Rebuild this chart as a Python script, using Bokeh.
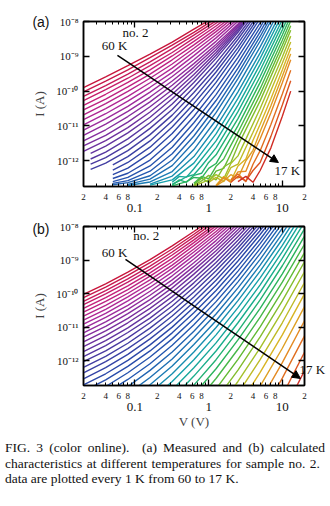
from bokeh.plotting import figure
from bokeh.layouts import column
from bokeh.models import LogAxis, FixedTicker, CustomJSTickFormatter, Label, Arrow, NormalHead, Range1d, Div
from bokeh.embed import file_html
from bokeh.resources import INLINE

# ---------------- data ----------------
temps = [60, 59, 58, 57, 56, 55, 54, 53, 52, 51, 50, 49, 48, 47, 46, 45, 44, 43, 42, 41, 40, 39,
         38, 37, 36, 35, 34, 33, 32, 31, 30, 29, 28, 27, 26, 25, 24, 23, 22, 21, 20, 19, 18, 17]

# (a) measured: voltage points (V) and log10 of current (A), one list per temperature
a_V = [
    [0.02, 0.04, 0.08, 0.16, 0.32, 0.63, 1.26],
    [0.02, 0.04, 0.08, 0.16, 0.32, 0.63, 1.26],
    [0.02, 0.04, 0.08, 0.16, 0.32, 0.63, 1.26],
    [0.02, 0.04, 0.08, 0.16, 0.32, 0.63, 1.26, 2.5],
    [0.02, 0.04, 0.08, 0.16, 0.32, 0.63, 1.26, 2.5],
    [0.02, 0.04, 0.08, 0.16, 0.32, 0.63, 1.26, 2.5],
    [0.02, 0.04, 0.08, 0.16, 0.32, 0.63, 1.26, 2.5],
    [0.02, 0.04, 0.08, 0.16, 0.32, 0.63, 1.26, 2.5],
    [0.02, 0.04, 0.08, 0.16, 0.32, 0.63, 1.26, 2.5],
    [0.02, 0.04, 0.08, 0.16, 0.32, 0.63, 1.26, 2.5, 5],
    [0.02, 0.04, 0.08, 0.16, 0.32, 0.63, 1.26, 2.5, 5],
    [0.02, 0.04, 0.08, 0.16, 0.32, 0.63, 1.26, 2.5, 5],
    [0.02, 0.04, 0.08, 0.16, 0.32, 0.63, 1.26, 2.5, 5],
    [0.02, 0.04, 0.08, 0.16, 0.32, 0.63, 1.26, 2.5, 5],
    [0.025, 0.04, 0.08, 0.16, 0.32, 0.63, 1.26, 2.5, 5],
    [0.025, 0.04, 0.08, 0.16, 0.32, 0.63, 1.26, 2.5, 5],
    [0.025, 0.04, 0.08, 0.16, 0.32, 0.63, 1.26, 2.5, 5],
    [0.025, 0.04, 0.08, 0.16, 0.32, 0.63, 1.26, 2.5, 5],
    [0.05, 0.08, 0.16, 0.32, 0.63, 1.26, 2.5, 5],
    [0.05, 0.08, 0.16, 0.32, 0.63, 1.26, 2.5, 5],
    [0.05, 0.08, 0.16, 0.32, 0.63, 1.26, 2.5, 5],
    [0.05, 0.08, 0.16, 0.32, 0.63, 1.26, 2.5, 5, 10],
    [0.05, 0.08, 0.16, 0.32, 0.63, 1.26, 2.5, 5, 10],
    [0.05, 0.08, 0.16, 0.32, 0.63, 1.26, 2.5, 5, 10],
    [0.05, 0.08, 0.16, 0.32, 0.63, 1.26, 2.5, 5, 10],
    [0.08, 0.16, 0.32, 0.63, 1.26, 2.5, 5, 10],
    [0.08, 0.16, 0.32, 0.63, 1.26, 2.5, 5, 10],
    [0.16, 0.32, 0.63, 1.26, 2.5, 5, 10],
    [0.16, 0.32, 0.63, 1.26, 2.5, 5, 10],
    [0.32, 0.4, 0.5, 0.63, 1.26, 2.5, 5, 10, 13],
    [0.32, 0.4, 0.5, 0.63, 0.8, 1.26, 2.5, 5, 10, 13],
    [0.32, 0.4, 0.5, 0.63, 0.8, 1.0, 1.26, 2.5, 5, 10, 13],
    [0.32, 0.5, 0.63, 0.8, 1.0, 1.26, 1.6, 2.5, 5, 10, 13],
    [0.63, 0.8, 1.0, 1.26, 1.6, 2.0, 2.5, 5, 10, 13],
    [0.63, 0.8, 1.0, 1.26, 1.6, 2.0, 2.5, 5, 10, 13],
    [0.63, 0.8, 1.0, 1.26, 1.6, 2.0, 2.5, 5, 10, 13],
    [0.63, 1.0, 1.26, 1.6, 2.0, 2.5, 3.2, 5, 10, 13],
    [1.0, 1.26, 1.6, 2.0, 2.5, 3.2, 4, 5, 10, 13],
    [1.26, 1.6, 2.0, 2.5, 3.2, 4, 5, 7, 10, 13],
    [1.26, 1.6, 2.0, 2.5, 3.2, 4, 5, 7, 10, 13],
    [1.26, 1.6, 2.0, 2.5, 3.2, 4, 5, 7, 10, 13],
    [2.0, 2.5, 3.2, 4, 5, 7, 10, 13],
    [2.0, 2.5, 3.2, 4, 5, 7, 10, 13],
    [2.5, 3.2, 4, 5, 7, 10, 13],
]
a_logI = [
    [-9.90, -9.59, -9.27, -8.94, -8.59, -8.22, -7.85],
    [-10.02, -9.71, -9.39, -9.04, -8.68, -8.31, -7.91],
    [-10.15, -9.84, -9.51, -9.16, -8.78, -8.39, -7.98],
    [-10.27, -9.96, -9.63, -9.27, -8.89, -8.48, -8.05, -7.60],
    [-10.41, -10.09, -9.75, -9.39, -8.99, -8.57, -8.13, -7.66],
    [-10.54, -10.23, -9.88, -9.51, -9.10, -8.67, -8.21, -7.72],
    [-10.68, -10.36, -10.01, -9.63, -9.22, -8.77, -8.29, -7.78],
    [-10.82, -10.50, -10.15, -9.76, -9.34, -8.87, -8.38, -7.85],
    [-10.97, -10.65, -10.29, -9.89, -9.46, -8.98, -8.47, -7.92],
    [-11.12, -10.80, -10.44, -10.03, -9.58, -9.10, -8.57, -7.99, -7.38],
    [-11.27, -10.95, -10.58, -10.17, -9.71, -9.21, -8.66, -8.07, -7.43],
    [-11.43, -11.11, -10.73, -10.31, -9.83, -9.31, -8.73, -8.11, -7.43],
    [-11.57, -11.27, -10.89, -10.45, -9.96, -9.41, -8.81, -8.15, -7.44],
    [-11.73, -11.42, -11.05, -10.60, -10.09, -9.52, -8.89, -8.20, -7.45],
    [-11.79, -11.58, -11.20, -10.75, -10.22, -9.63, -8.97, -8.25, -7.46],
    [-11.95, -11.75, -11.37, -10.91, -10.37, -9.75, -9.06, -8.31, -7.48],
    [-12.10, -11.91, -11.54, -11.07, -10.53, -9.89, -9.19, -8.41, -7.55],
    [-12.25, -12.07, -11.71, -11.25, -10.69, -10.04, -9.32, -8.51, -7.63],
    [-12.12, -11.88, -11.43, -10.86, -10.20, -9.45, -8.63, -7.72],
    [-12.27, -12.05, -11.61, -11.03, -10.36, -9.60, -8.75, -7.81],
    [-12.40, -12.21, -11.79, -11.22, -10.53, -9.75, -8.87, -7.91],
    [-12.51, -12.36, -11.98, -11.42, -10.73, -9.92, -9.03, -8.04, -6.97],
    [-12.60, -12.48, -12.15, -11.61, -10.91, -10.10, -9.18, -8.17, -7.07],
    [-12.65, -12.57, -12.30, -11.80, -11.10, -10.27, -9.34, -8.30, -7.17],
    [-12.69, -12.63, -12.43, -11.98, -11.29, -10.45, -9.49, -8.43, -7.27],
    [-12.68, -12.53, -12.14, -11.47, -10.62, -9.64, -8.56, -7.37],
    [-12.71, -12.61, -12.31, -11.68, -10.83, -9.83, -8.73, -7.52],
    [-12.67, -12.44, -11.88, -11.03, -10.02, -8.90, -7.66],
    [-12.70, -12.55, -12.07, -11.23, -10.21, -9.06, -7.80],
    [-12.62, -12.45, -12.47, -12.23, -11.43, -10.40, -9.23, -7.95, -7.43],
    [-12.67, -12.58, -12.46, -12.40, -12.15, -11.63, -10.59, -9.40, -8.09, -7.56],
    [-12.70, -12.55, -12.62, -12.42, -12.36, -12.05, -11.83, -10.79, -9.58, -8.24, -7.70],
    [-12.72, -12.60, -12.48, -12.50, -12.22, -12.08, -11.70, -10.99, -9.75, -8.39, -7.84],
    [-12.65, -12.45, -12.52, -12.16, -11.95, -11.56, -11.18, -9.93, -8.54, -7.98],
    [-12.69, -12.50, -12.62, -12.30, -12.22, -11.80, -11.37, -10.10, -8.68, -8.12],
    [-12.71, -12.58, -12.42, -12.55, -12.18, -12.05, -11.56, -10.28, -8.83, -8.25],
    [-12.73, -12.55, -12.40, -12.52, -12.08, -11.86, -11.38, -10.50, -9.02, -8.42],
    [-12.62, -12.48, -12.60, -12.20, -12.10, -11.62, -11.18, -10.72, -9.20, -8.59],
    [-12.70, -12.45, -12.58, -12.15, -11.95, -11.41, -10.95, -10.22, -9.39, -8.76],
    [-12.72, -12.58, -12.40, -12.50, -12.00, -11.70, -11.16, -10.42, -9.57, -8.93],
    [-12.73, -12.48, -12.62, -12.32, -12.30, -11.80, -11.37, -10.62, -9.76, -9.10],
    [-12.55, -12.38, -12.60, -12.10, -11.71, -10.96, -10.08, -9.40],
    [-12.62, -12.45, -12.58, -12.28, -12.05, -11.30, -10.40, -9.70],
    [-12.60, -12.45, -12.62, -12.28, -11.63, -10.72, -10.00],
]

# (b) calculated: common voltage grid, index of first point, log10 of current (A)
V_GRID = [0.02, 0.04, 0.08, 0.16, 0.32, 0.63, 1.26, 2.5, 5, 10, 20]
b_start = [0, 0, 0, 0, 0, 0, 0, 0, 0, 0, 0, 0, 0, 0, 0, 0, 0, 0, 0, 0, 0, 0,
           1, 1, 2, 2, 2, 3, 3, 4, 4, 4, 5, 5, 6, 6, 6, 7, 7, 8, 8, 8, 9, 9]
b_logI = [
    [-10.02, -9.71, -9.36, -8.99, -8.58, -8.15, -7.69],
    [-10.12, -9.81, -9.46, -9.08, -8.67, -8.23, -7.76],
    [-10.23, -9.91, -9.56, -9.18, -8.76, -8.31, -7.83],
    [-10.33, -10.01, -9.66, -9.28, -8.85, -8.40, -7.91],
    [-10.44, -10.12, -9.77, -9.38, -8.95, -8.48, -7.98],
    [-10.55, -10.23, -9.88, -9.48, -9.05, -8.57, -8.06, -7.51],
    [-10.67, -10.35, -9.99, -9.59, -9.15, -8.67, -8.15, -7.59],
    [-10.79, -10.47, -10.10, -9.70, -9.25, -8.76, -8.23, -7.66],
    [-10.91, -10.59, -10.22, -9.81, -9.36, -8.86, -8.32, -7.74],
    [-11.04, -10.71, -10.35, -9.93, -9.47, -8.97, -8.42, -7.82],
    [-11.17, -10.84, -10.47, -10.05, -9.59, -9.08, -8.52, -7.91],
    [-11.30, -10.98, -10.60, -10.18, -9.71, -9.19, -8.62, -8.00, -7.33],
    [-11.44, -11.11, -10.74, -10.31, -9.83, -9.30, -8.72, -8.10, -7.42],
    [-11.58, -11.25, -10.87, -10.44, -9.96, -9.42, -8.83, -8.19, -7.50],
    [-11.73, -11.40, -11.02, -10.58, -10.09, -9.55, -8.95, -8.30, -7.59],
    [-11.88, -11.55, -11.16, -10.73, -10.23, -9.68, -9.07, -8.41, -7.69],
    [-12.03, -11.71, -11.32, -10.87, -10.37, -9.81, -9.19, -8.52, -7.79],
    [-12.20, -11.87, -11.48, -11.03, -10.52, -9.95, -9.32, -8.64, -7.89],
    [-12.36, -12.03, -11.64, -11.19, -10.67, -10.10, -9.46, -8.76, -8.00, -7.18],
    [-12.54, -12.21, -11.81, -11.35, -10.83, -10.25, -9.60, -8.89, -8.12, -7.29],
    [-12.72, -12.39, -11.99, -11.53, -11.00, -10.41, -9.75, -9.03, -8.24, -7.39],
    [-12.91, -12.57, -12.17, -11.71, -11.17, -10.57, -9.91, -9.18, -8.38, -7.51],
    [-12.77, -12.36, -11.89, -11.35, -10.75, -10.07, -9.33, -8.51, -7.63],
    [-12.97, -12.56, -12.09, -11.54, -10.93, -10.24, -9.49, -8.66, -7.76],
    [-12.77, -12.29, -11.74, -11.12, -10.42, -9.65, -8.81, -7.90],
    [-12.99, -12.50, -11.95, -11.31, -10.61, -9.83, -8.98, -8.05, -7.05],
    [-13.21, -12.72, -12.16, -11.52, -10.81, -10.02, -9.15, -8.21, -7.19],
    [-12.96, -12.39, -11.74, -11.01, -10.21, -9.33, -8.38, -7.35],
    [-13.20, -12.62, -11.97, -11.23, -10.42, -9.53, -8.56, -7.51],
    [-12.87, -12.21, -11.47, -10.64, -9.74, -8.75, -7.68],
    [-13.13, -12.46, -11.71, -10.87, -9.96, -8.95, -7.87],
    [-13.41, -12.73, -11.97, -11.12, -10.19, -9.17, -8.07],
    [-13.01, -12.24, -11.38, -10.44, -9.41, -8.29],
    [-13.32, -12.53, -11.66, -10.70, -9.66, -8.53],
    [-12.84, -11.96, -10.99, -9.93, -8.78],
    [-13.17, -12.28, -11.29, -10.22, -9.05],
    [-13.52, -12.62, -11.62, -10.53, -9.35],
    [-12.98, -11.97, -10.87, -9.67],
    [-13.38, -12.35, -11.23, -10.01],
    [-12.76, -11.63, -10.39],
    [-13.21, -12.06, -10.81],
    [-13.69, -12.52, -11.26],
    [-13.04, -11.75],
    [-13.60, -12.30],
]

x_major = [0.1, 1, 10]
x_minor = [0.03, 0.04, 0.05, 0.06, 0.07, 0.08, 0.09, 0.2, 0.3, 0.4, 0.5, 0.6, 0.7, 0.8, 0.9,
           2, 3, 4, 5, 6, 7, 8, 9]
x_small_labels = [0.02, 0.04, 0.06, 0.08, 0.2, 0.4, 0.6, 0.8, 2, 4, 6, 8, 20]
y_major = [1e-12, 1e-11, 1e-10, 1e-9, 1e-8]

# ---------------- styling ----------------
anchors = [(60, "#C8163C"), (56, "#C4207A"), (52, "#A82A9C"), (48, "#7A2E9E"), (44, "#4A3AA0"),
           (40, "#2C48A8"), (37, "#2458B0"), (34, "#1C7CB4"), (32, "#16A0AA"), (30, "#1AAE8C"),
           (28, "#2CB45C"), (26, "#62BA34"), (24, "#A4C02A"), (22, "#D8B424"), (20, "#E48A22"),
           (18, "#DC5420"), (17, "#D02C24")]

def col_for(T):
    for (t1, c1), (t2, c2) in zip(anchors[:-1], anchors[1:]):
        if t2 <= T <= t1:
            f = (t1 - T) / (t1 - t2)
            a = [int(c1[i:i + 2], 16) for i in (1, 3, 5)]
            b = [int(c2[i:i + 2], 16) for i in (1, 3, 5)]
            return "#%02x%02x%02x" % tuple(round(x + (y - x) * f) for x, y in zip(a, b))
    return anchors[-1][1]

colors = [col_for(T) for T in temps]

SERIF = "Liberation Serif"
SUP = """
const e = Math.round(Math.log10(tick));
const m = {"-":"⁻","0":"⁰","1":"¹","2":"²","3":"³","4":"⁴","5":"⁵","6":"⁶","7":"⁷","8":"⁸","9":"⁹"};
return "10" + String(e).split("").map(c => m[c]).join("");"""
MANT = "const e = Math.floor(Math.log10(tick) + 1e-9); return String(Math.round(tick / Math.pow(10, e)));"
DEC = "return tick >= 1 ? String(Math.round(tick)) : String(Number(tick.toPrecision(1)));"
BLANK = "return '';"

def blank_axis(ax, ticks, minor):
    ax.ticker = FixedTicker(ticks=ticks, minor_ticks=minor)
    ax.formatter = CustomJSTickFormatter(code=BLANK)
    ax.major_label_text_font_size = "0px"
    ax.major_label_standoff = 0
    ax.major_tick_in = 6; ax.major_tick_out = 0
    ax.minor_tick_in = 3; ax.minor_tick_out = 0
    ax.axis_line_width = 1.5; ax.major_tick_line_width = 1.3; ax.minor_tick_line_width = 1

def text_axis(p, y, text, side, standoff, font, size):
    ax = LogAxis(ticker=FixedTicker(ticks=[y], minor_ticks=[]),
                 formatter=CustomJSTickFormatter(code="return %r;" % text),
                 axis_line_color=None, major_tick_line_color=None, minor_tick_line_color=None,
                 major_label_text_font=font, major_label_text_font_size=size,
                 major_label_standoff=standoff, major_label_text_color="#111")
    p.add_layout(ax, side)

def panel(height, btop, bbot, xs, ys, xlabel):
    p = figure(width=330, height=height, x_axis_type="log", y_axis_type="log",
               x_range=Range1d(0.02, 20), y_range=Range1d(10 ** -12.74, 1e-8),
               output_backend="svg", toolbar_location=None,
               min_border_left=83, min_border_right=26, min_border_top=btop, min_border_bottom=bbot)
    p.grid.visible = False
    p.outline_line_color = "black"; p.outline_line_width = 1.5
    p.multi_line(xs, ys, line_color=colors, line_width=1.4)
    blank_axis(p.xaxis[0], x_major, x_minor)
    ax2 = LogAxis(ticker=FixedTicker(ticks=x_small_labels, minor_ticks=[]),
                  formatter=CustomJSTickFormatter(code=MANT),
                  axis_line_color=None, major_tick_line_color=None, minor_tick_line_color=None,
                  major_label_text_font=SERIF, major_label_text_font_size="9px", major_label_standoff=1,
                  major_label_text_color="#111")
    ax3 = LogAxis(ticker=FixedTicker(ticks=x_major, minor_ticks=[]), formatter=CustomJSTickFormatter(code=DEC),
                  axis_line_color=None, major_tick_line_color=None, minor_tick_line_color=None,
                  major_label_text_font=SERIF, major_label_text_font_size="13px", major_label_standoff=-5,
                  major_label_text_color="#111")
    if xlabel:
        ax3.axis_label = "V (V)"
        ax3.axis_label_text_font = SERIF; ax3.axis_label_text_font_size = "13px"
        ax3.axis_label_text_font_style = "normal"; ax3.axis_label_standoff = 0
    p.add_layout(ax2, "below"); p.add_layout(ax3, "below")
    top = LogAxis(); blank_axis(top, x_major, x_minor); p.add_layout(top, "above")
    yl = p.yaxis[0]
    yl.ticker = FixedTicker(ticks=y_major, minor_ticks=[])
    yl.formatter = CustomJSTickFormatter(code=SUP)
    yl.major_tick_in = 6; yl.major_tick_out = 0
    yl.axis_line_width = 1.5; yl.major_tick_line_width = 1.3
    yl.major_label_text_font = SERIF; yl.major_label_text_font_size = "11px"; yl.major_label_standoff = 5
    yl.major_label_text_color = "#111"
    yl.axis_label = "I (A)"; yl.axis_label_text_font = SERIF; yl.axis_label_text_font_size = "13px"
    yl.axis_label_text_font_style = "normal"; yl.axis_label_standoff = 6
    right = LogAxis(); blank_axis(right, y_major, []); p.add_layout(right, "right")
    return p

a_xs = a_V
a_ys = [[10 ** v for v in L] for L in a_logI]
b_xs = [V_GRID[s:s + len(L)] for s, L in zip(b_start, b_logI)]
b_ys = [[10 ** v for v in L] for L in b_logI]

pa = panel(214, 21, 26, a_xs, a_ys, False)
pb = panel(217, 12, 44, b_xs, b_ys, True)

text_axis(pa, 1e-8, "(a)", "left", -26, "Liberation Sans", "14px")
text_axis(pb, 8.15e-9, "(b)", "left", -26, "Liberation Sans", "14px")
text_axis(pb, 5.4e-13, "17 K", "right", -11, SERIF, "13px")

def note(p, x, y, t):
    p.add_layout(Label(x=x, y=y, text=t, text_font=SERIF, text_font_size="13px", text_align="center",
                       text_baseline="middle", text_color="#111"))

note(pa, 0.1015, 4.8e-9, "no. 2"); note(pa, 0.0527, 2.06e-9, "60 K"); note(pa, 11.7, 5.3e-13, "17 K")
note(pb, 0.142, 5.4e-9, "no. 2"); note(pb, 0.0527, 1.7e-9, "60 K")
pa.add_layout(Arrow(end=NormalHead(size=8, fill_color="black", line_color="black"), x_start=0.0578, y_start=1.07e-9,
                    x_end=8.85, y_end=8.9e-13, line_width=1.5, line_color="black"))
pb.add_layout(Arrow(end=NormalHead(size=8, fill_color="black", line_color="black"), x_start=0.0743, y_start=1.05e-9,
                    x_end=17.6, y_end=2.95e-13, line_width=1.5, line_color="black"))

cap_html = (
    '<div style="font-family:\'Liberation Serif\',serif;font-size:13.5px;line-height:15.5px;color:#111;'
    'padding:9px 0 0 5px;margin:0;">'
    '<div style="width:320px;text-align:justify;text-align-last:justify;">'
    'FIG. 3 (color online).&nbsp; (a) Measured and (b) calculated</div>'
    '<div style="width:315px;text-align:justify;text-align-last:justify;">'
    'characteristics at different temperatures for sample no. 2.</div>'
    '<div>data are plotted every 1 K from 60 to 17 K.</div></div>'
)
cap = Div(text=cap_html, width=330, height=75, margin=(0, 0, 0, 0))

layout = column(pa, pb, cap)
open("out.html", "w").write(file_html(layout, INLINE))
